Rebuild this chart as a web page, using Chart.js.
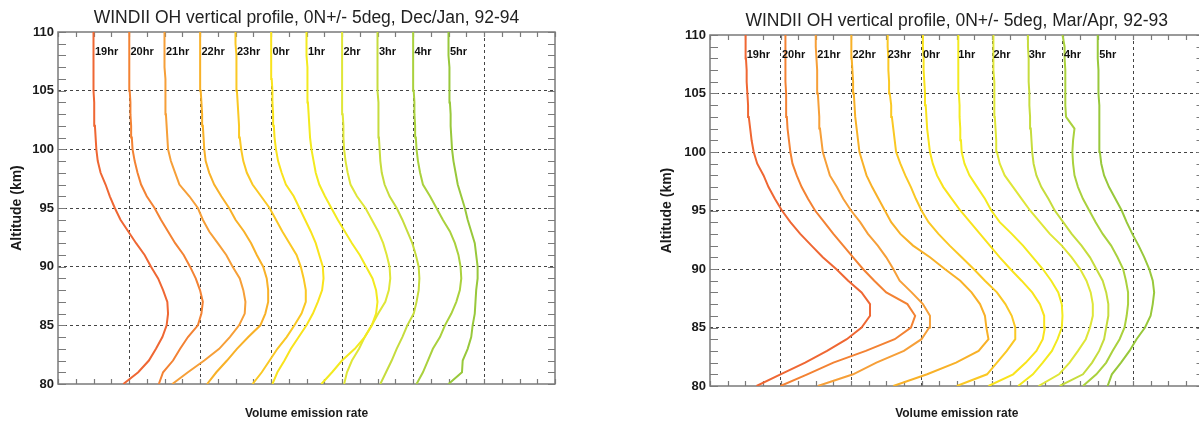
<!DOCTYPE html>
<html>
<head>
<meta charset="utf-8">
<title>WINDII OH vertical profiles</title>
<script src="https://cdn.jsdelivr.net/npm/chart.js@4.4.0/dist/chart.umd.min.js"></script>
<style>
  html, body { margin: 0; padding: 0; background: #fff; overflow: hidden; }
  #wrap { position: relative; width: 1199px; height: 421px; overflow: hidden; }
  #decjan { position: absolute; left: 0; top: 0; }
  #marapr { position: absolute; left: 600px; top: 0; }
</style>
</head>
<body>
<div id="wrap">
  <canvas id="decjan" width="600" height="421"></canvas>
  <canvas id="marapr" width="610" height="421"></canvas>
</div>
<script>
// altitude levels (km), listed bottom to top
const altitudes = [80, 81, 82, 83, 84, 85, 86, 87, 88, 89, 90, 91, 92, 93, 94, 95,
                   96, 97, 98, 99, 100, 101, 102, 103, 104, 105, 106, 107, 108, 109, 110];
const altTicks = [80, 85, 90, 95, 100, 105, 110];
const hourLabels = ['19hr', '20hr', '21hr', '22hr', '23hr', '0hr', '1hr', '2hr', '3hr', '4hr', '5hr'];
// each profile is shifted right by half a unit per hour
const profileOffsets = [0.5, 1, 1.5, 2, 2.5, 3, 3.5, 4, 4.5, 5, 5.5];

// Dec/Jan 92-94 emission profiles (relative units, 80..110 km)
const decJan19 = [0.42, 0.63, 0.78, 0.88, 0.97, 1.03, 1.05, 1.04, 0.98, 0.91, 0.81, 0.72, 0.60, 0.49, 0.38, 0.30, 0.23, 0.17, 0.10, 0.06, 0.04, 0.03, 0.02, 0.01, 0.01, 0, 0, 0, 0, 0, 0];
const decJan20 = [0.42, 0.48, 0.62, 0.72, 0.83, 0.97, 1.02, 1.04, 1.00, 0.94, 0.86, 0.77, 0.65, 0.55, 0.45, 0.36, 0.25, 0.17, 0.12, 0.08, 0.05, 0.04, 0.03, 0.02, 0.02, 0.01, 0.01, 0.01, 0, 0, 0];
const decJan21 = [0.11, 0.33, 0.56, 0.77, 0.92, 1.05, 1.13, 1.14, 1.11, 1.06, 0.96, 0.87, 0.75, 0.63, 0.54, 0.47, 0.35, 0.21, 0.15, 0.09, 0.05, 0.04, 0.03, 0.02, 0.02, 0.01, 0.01, 0, 0, 0, 0];
const decJan22 = [0.10, 0.23, 0.38, 0.52, 0.68, 0.85, 0.92, 0.96, 0.96, 0.94, 0.89, 0.80, 0.72, 0.62, 0.50, 0.41, 0.30, 0.20, 0.13, 0.08, 0.06, 0.05, 0.04, 0.03, 0.02, 0.01, 0.01, 0, 0, 0, 0];
const decJan23 = [0.24, 0.37, 0.48, 0.59, 0.72, 0.83, 0.93, 0.99, 0.99, 0.96, 0.92, 0.86, 0.76, 0.66, 0.57, 0.48, 0.36, 0.24, 0.16, 0.11, 0.08, 0.06, 0.05, 0.04, 0.03, 0.02, 0.02, 0.01, 0.01, 0, 0];
const decJan0 = [0.02, 0.09, 0.19, 0.28, 0.39, 0.50, 0.59, 0.66, 0.72, 0.74, 0.73, 0.68, 0.63, 0.56, 0.48, 0.40, 0.32, 0.21, 0.15, 0.10, 0.07, 0.05, 0.04, 0.03, 0.02, 0.02, 0.01, 0.01, 0, 0, 0];
const decJan1 = [0.21, 0.36, 0.50, 0.68, 0.82, 0.92, 0.98, 1.00, 0.98, 0.93, 0.84, 0.75, 0.64, 0.54, 0.44, 0.35, 0.26, 0.18, 0.13, 0.10, 0.07, 0.05, 0.04, 0.03, 0.02, 0.02, 0.01, 0.01, 0, 0, 0];
const decJan2 = [0.03, 0.07, 0.14, 0.24, 0.32, 0.42, 0.51, 0.61, 0.66, 0.68, 0.67, 0.63, 0.58, 0.51, 0.42, 0.33, 0.21, 0.12, 0.08, 0.05, 0.03, 0.02, 0.02, 0.01, 0.01, 0, 0, 0, 0, 0, 0];
const decJan3 = [0.04, 0.12, 0.20, 0.27, 0.35, 0.42, 0.51, 0.55, 0.58, 0.59, 0.58, 0.54, 0.49, 0.42, 0.35, 0.27, 0.17, 0.10, 0.06, 0.04, 0.03, 0.02, 0.02, 0.01, 0.01, 0, 0, 0, 0, 0, 0];
const decJan4 = [0.05, 0.14, 0.21, 0.28, 0.38, 0.45, 0.54, 0.61, 0.66, 0.68, 0.67, 0.64, 0.59, 0.52, 0.42, 0.33, 0.24, 0.14, 0.10, 0.07, 0.05, 0.04, 0.03, 0.02, 0.02, 0.01, 0.01, 0, 0, 0, 0];
const decJan5 = [0.00, 0.19, 0.20, 0.27, 0.32, 0.34, 0.37, 0.38, 0.39, 0.41, 0.41, 0.39, 0.37, 0.32, 0.27, 0.23, 0.18, 0.13, 0.10, 0.07, 0.05, 0.04, 0.03, 0.03, 0.02, 0.02, 0.01, 0.01, 0, 0, 0];

// Mar/Apr 92-93 emission profiles (relative units, 80..110 km)
const marApr19 = [0.16, 0.50, 0.85, 1.16, 1.44, 1.65, 1.77, 1.77, 1.65, 1.46, 1.29, 1.10, 0.94, 0.78, 0.64, 0.52, 0.42, 0.33, 0.26, 0.17, 0.12, 0.09, 0.07, 0.05, 0.04, 0.03, 0.02, 0.02, 0.01, 0.01, 0];
const marApr20 = [0.00, 0.38, 0.75, 1.21, 1.62, 1.85, 1.91, 1.80, 1.50, 1.33, 1.17, 1.03, 0.89, 0.75, 0.62, 0.49, 0.39, 0.30, 0.23, 0.17, 0.14, 0.12, 0.10, 0.09, 0.08, 0.08, 0.07, 0.07, 0.07, 0.07, 0.07];
const marApr21 = [0.03, 0.53, 0.86, 1.25, 1.50, 1.61, 1.62, 1.52, 1.36, 1.19, 1.10, 1.00, 0.88, 0.74, 0.63, 0.50, 0.39, 0.30, 0.20, 0.15, 0.10, 0.08, 0.06, 0.05, 0.04, 0.03, 0.02, 0.02, 0.01, 0, 0];
const marApr22 = [0.60, 1.08, 1.49, 1.81, 1.95, 1.92, 1.90, 1.83, 1.71, 1.55, 1.33, 1.12, 0.88, 0.70, 0.57, 0.48, 0.39, 0.30, 0.22, 0.17, 0.12, 0.10, 0.08, 0.06, 0.05, 0.04, 0.03, 0.02, 0.01, 0.01, 0];
const marApr23 = [1.00, 1.43, 1.57, 1.71, 1.83, 1.83, 1.78, 1.69, 1.57, 1.40, 1.24, 1.07, 0.90, 0.74, 0.60, 0.50, 0.42, 0.35, 0.27, 0.20, 0.14, 0.12, 0.10, 0.08, 0.07, 0.05, 0.04, 0.03, 0.03, 0.02, 0.02];
const marApr0 = [0.95, 1.30, 1.48, 1.63, 1.72, 1.75, 1.74, 1.68, 1.57, 1.42, 1.26, 1.11, 0.97, 0.83, 0.69, 0.55, 0.43, 0.31, 0.22, 0.16, 0.12, 0.10, 0.08, 0.07, 0.06, 0.05, 0.04, 0.03, 0.03, 0.02, 0.02];
const marApr1 = [0.87, 1.08, 1.22, 1.35, 1.43, 1.49, 1.50, 1.49, 1.44, 1.34, 1.22, 1.08, 0.94, 0.78, 0.61, 0.49, 0.40, 0.29, 0.18, 0.11, 0.07, 0.06, 0.05, 0.04, 0.04, 0.03, 0.03, 0.02, 0.02, 0.02, 0.02];
const marApr2 = [0.66, 0.95, 1.10, 1.22, 1.33, 1.39, 1.43, 1.43, 1.40, 1.34, 1.25, 1.13, 0.99, 0.82, 0.68, 0.54, 0.42, 0.30, 0.18, 0.11, 0.07, 0.06, 0.05, 0.04, 0.04, 0.03, 0.03, 0.02, 0.02, 0.02, 0.02];
const marApr3 = [0.46, 0.79, 0.92, 1.02, 1.09, 1.12, 1.15, 1.15, 1.12, 1.07, 0.98, 0.89, 0.77, 0.63, 0.51, 0.39, 0.30, 0.20, 0.13, 0.09, 0.07, 0.06, 0.05, 0.04, 0.03, 0.03, 0.02, 0.02, 0.02, 0.01, 0.01];
const marApr4 = [0.29, 0.48, 0.62, 0.71, 0.81, 0.88, 0.91, 0.93, 0.93, 0.90, 0.86, 0.78, 0.69, 0.57, 0.47, 0.38, 0.29, 0.22, 0.17, 0.15, 0.14, 0.15, 0.17, 0.05, 0.04, 0.04, 0.04, 0.04, 0.03, 0.03, 0];
const marApr5 = [0.14, 0.20, 0.33, 0.45, 0.55, 0.67, 0.75, 0.78, 0.80, 0.78, 0.73, 0.66, 0.58, 0.49, 0.41, 0.34, 0.25, 0.16, 0.09, 0.05, 0.03, 0.03, 0.02, 0.02, 0.02, 0.01, 0.01, 0.01, 0, 0, 0];

const hourColors = ['#ef6733', '#f38233', '#f69f38', '#f8b128', '#fac824', '#f9e31c',
                    '#f3ea1f', '#dfe638', '#c6dc3d', '#aad13d', '#98c83b'];
const FONT = "'Liberation Sans', Arial, Helvetica, sans-serif";

// box, inward tick marks and hour labels
const framePlugin = {
  id: 'frame',
  beforeDatasetsDraw(chart) {
    const ctx = chart.ctx;
    const xs = chart.scales.x, ys = chart.scales.y;
    const { left, right, top, bottom } = chart.chartArea;
    ctx.save();
    ctx.strokeStyle = '#7a7a7a';
    ctx.lineWidth = 1.5;
    ctx.strokeRect(left, top, right - left, bottom - top);
    ctx.lineWidth = 1.2;
    ctx.beginPath();
    for (let v = xs.min; v <= xs.max; v += 0.25) {
      const px = Math.round(xs.getPixelForValue(v)) + 0.5;
      ctx.moveTo(px, bottom); ctx.lineTo(px, bottom - 5);
      ctx.moveTo(px, top); ctx.lineTo(px, top + 5);
    }
    for (let a = ys.min; a <= ys.max; a++) {
      const py = Math.round(ys.getPixelForValue(a)) + 0.5;
      ctx.moveTo(left, py); ctx.lineTo(left + 8, py);
      ctx.moveTo(right, py); ctx.lineTo(right - 7, py);
    }
    ctx.stroke();
    ctx.restore();
  },
  afterDatasetsDraw(chart) {
    const ctx = chart.ctx;
    const xs = chart.scales.x, ys = chart.scales.y;
    ctx.save();
    ctx.fillStyle = '#111';
    ctx.font = 'bold 11px ' + FONT;
    ctx.textAlign = 'left';
    ctx.textBaseline = 'alphabetic';
    hourLabels.forEach((h, i) => {
      ctx.fillText(h, xs.getPixelForValue(profileOffsets[i]) + 1.5, ys.getPixelForValue(108));
    });
    ctx.restore();
  }
};

function makeChart(id, titleText, profiles, opts) {
  const ctx = document.getElementById(id).getContext('2d');
  return new Chart(ctx, {
    type: 'line',
    data: {
      datasets: profiles.map((vals, i) => ({
        label: hourLabels[i],
        data: altitudes.map((a, k) => ({ x: profileOffsets[i] + vals[k], y: a })),
        borderColor: hourColors[i],
        borderWidth: 2,
        pointRadius: 0,
        tension: 0,
        fill: false
      }))
    },
    options: {
      responsive: false,
      animation: false,
      events: [],
      layout: { padding: opts.padding },
      plugins: {
        legend: { display: false },
        tooltip: { enabled: false },
        title: {
          display: true,
          text: titleText,
          fullSize: false,
          color: '#222',
          font: { family: FONT, size: 17.5, weight: 'normal', lineHeight: 1.2 },
          padding: opts.titlePad
        }
      },
      scales: {
        x: {
          type: 'linear',
          min: 0,
          max: 7,
          ticks: { display: false, stepSize: 1 },
          grid: {
            drawTicks: false,
            lineWidth: 1,
            color: c => (c.tick.value > 0 && c.tick.value < 7) ? '#444' : 'rgba(0,0,0,0)'
          },
          border: { display: false, dash: [3, 3] },
          title: {
            display: true,
            text: 'Volume emission rate',
            color: '#1a1a1a',
            font: { family: FONT, size: 12, weight: 'bold', lineHeight: 1.2 },
            padding: 0
          },
          afterFit: s => { s.height = opts.xHeight; }
        },
        y: {
          type: 'linear',
          min: 80,
          max: 110,
          afterBuildTicks: s => { s.ticks = altTicks.map(v => ({ value: v })); },
          ticks: {
            color: '#1a1a1a',
            padding: 4,
            font: { family: FONT, size: 13, weight: 'bold' }
          },
          grid: {
            drawTicks: false,
            lineWidth: 1,
            color: c => (c.tick.value > 80 && c.tick.value < 110) ? '#444' : 'rgba(0,0,0,0)'
          },
          border: { display: false, dash: [3, 3] },
          title: {
            display: true,
            text: 'Altitude (km)',
            color: '#1a1a1a',
            font: { family: FONT, size: 14, weight: 'bold', lineHeight: 1.2 },
            padding: { top: 9, bottom: 0 }
          },
          afterFit: s => { s.width = opts.yWidth; }
        }
      }
    },
    plugins: [framePlugin]
  });
}

makeChart('decjan', 'WINDII OH vertical profile, 0N+/- 5deg, Dec/Jan, 92-94',
  [decJan19, decJan20, decJan21, decJan22, decJan23, decJan0, decJan1, decJan2, decJan3, decJan4, decJan5],
  { padding: { left: 0, right: 45, top: 0, bottom: 0 }, yWidth: 58, xHeight: 37,
    titlePad: { top: 7.5, bottom: 3.5 } });

makeChart('marapr', 'WINDII OH vertical profile, 0N+/- 5deg, Mar/Apr, 92-93',
  [marApr19, marApr20, marApr21, marApr22, marApr23, marApr0, marApr1, marApr2, marApr3, marApr4, marApr5],
  { padding: { left: 50, right: 6.5, top: 0, bottom: 0 }, yWidth: 60, xHeight: 35,
    titlePad: { top: 11, bottom: 3 } });
</script>
</body>
</html>
